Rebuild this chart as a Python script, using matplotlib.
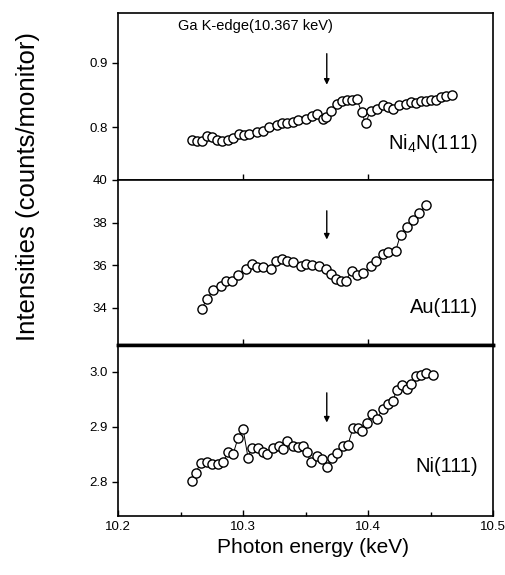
import matplotlib
matplotlib.use("Agg")
import matplotlib.pyplot as plt

plt.rcParams['font.family'] = ['Liberation Sans', 'DejaVu Sans']
plt.rcParams['mathtext.default'] = 'regular'

# Ni4N(111) reflection
ni4n_x = [10.259, 10.263, 10.267, 10.271, 10.275, 10.279, 10.283, 10.288, 10.292, 10.297,
          10.301, 10.305, 10.311, 10.316, 10.321, 10.327, 10.331, 10.335, 10.340, 10.344,
          10.350, 10.355, 10.359, 10.364, 10.366, 10.370, 10.375, 10.379, 10.383, 10.387,
          10.391, 10.395, 10.398, 10.402, 10.407, 10.412, 10.416, 10.420, 10.425, 10.430,
          10.434, 10.438, 10.442, 10.446, 10.450, 10.454, 10.458, 10.462, 10.467]
ni4n_y = [0.780, 0.779, 0.779, 0.787, 0.785, 0.780, 0.779, 0.780, 0.783, 0.790,
          0.788, 0.790, 0.793, 0.795, 0.800, 0.803, 0.806, 0.807, 0.808, 0.811,
          0.813, 0.818, 0.821, 0.813, 0.816, 0.826, 0.836, 0.841, 0.842, 0.843,
          0.844, 0.823, 0.806, 0.826, 0.829, 0.834, 0.832, 0.829, 0.834, 0.836,
          0.839, 0.837, 0.840, 0.841, 0.843, 0.843, 0.847, 0.849, 0.850]

# Au(111) reflection
au_x = [10.267, 10.271, 10.276, 10.282, 10.286, 10.291, 10.296, 10.302, 10.307, 10.311,
        10.316, 10.322, 10.326, 10.331, 10.335, 10.340, 10.346, 10.350, 10.355, 10.361,
        10.366, 10.370, 10.374, 10.378, 10.382, 10.387, 10.391, 10.396, 10.402, 10.406,
        10.412, 10.416, 10.422, 10.426, 10.431, 10.436, 10.441, 10.446]
au_y = [33.95, 34.38, 34.83, 35.02, 35.26, 35.26, 35.55, 35.81, 36.03, 35.90,
        35.90, 35.80, 36.18, 36.27, 36.18, 36.12, 35.97, 36.05, 36.02, 35.95,
        35.80, 35.57, 35.34, 35.26, 35.26, 35.72, 35.53, 35.62, 35.95, 36.20,
        36.50, 36.63, 36.65, 37.42, 37.78, 38.10, 38.46, 38.80]

# Ni(111) reflection
ni_x = [10.259, 10.262, 10.266, 10.271, 10.275, 10.280, 10.284, 10.288, 10.292, 10.296,
        10.300, 10.304, 10.307, 10.312, 10.316, 10.319, 10.324, 10.329, 10.332, 10.335,
        10.340, 10.344, 10.348, 10.351, 10.354, 10.359, 10.363, 10.367, 10.371, 10.375,
        10.380, 10.384, 10.388, 10.392, 10.395, 10.399, 10.403, 10.407, 10.412, 10.416,
        10.420, 10.423, 10.427, 10.431, 10.434, 10.438, 10.442, 10.446, 10.452]
ni_y = [2.801, 2.816, 2.834, 2.837, 2.833, 2.833, 2.836, 2.854, 2.850, 2.880,
        2.897, 2.844, 2.862, 2.862, 2.854, 2.851, 2.862, 2.865, 2.860, 2.874,
        2.866, 2.864, 2.865, 2.854, 2.837, 2.848, 2.842, 2.828, 2.844, 2.853,
        2.865, 2.868, 2.898, 2.898, 2.892, 2.907, 2.924, 2.915, 2.933, 2.942,
        2.948, 2.968, 2.977, 2.969, 2.978, 2.992, 2.995, 2.998, 2.995]

edge = 10.367

fig = plt.figure(figsize=(5.05, 5.75), dpi=100)
ax1 = fig.add_axes([0.2337, 0.687, 0.7426, 0.2904])
ax2 = fig.add_axes([0.2337, 0.400, 0.7426, 0.287])
ax3 = fig.add_axes([0.2337, 0.1026, 0.7426, 0.2974])

panels = [
    (ax1, ni4n_x, ni4n_y, (0.7185, 0.977), [0.8, 0.9], '%.1f', 'Ni$_4$N(111)', 0.775, (0.914, 0.866)),
    (ax2, au_x, au_y, (32.24, 40.0), [34, 36, 38, 40], '%d', 'Au(111)', 34.0, (38.55, 37.2)),
    (ax3, ni_x, ni_y, (2.738, 3.049), [2.8, 2.9, 3.0], '%.1f', 'Ni(111)', 2.828, (2.962, 2.908)),
]

for ax, x, y, ylim, yt, fmt, label, ly, arr in panels:
    ax.plot(x, y, '-', color='black', lw=0.7, marker='o', ms=6.6, mfc='white',
            mec='black', mew=1.0)
    ax.set_xlim(10.2, 10.5)
    ax.set_ylim(*ylim)
    ax.set_yticks(yt)
    ax.set_yticklabels([fmt % v for v in yt], fontsize=9.5)
    ax.tick_params(axis='y', direction='out', length=4, width=1)
    ax.tick_params(axis='x', direction='in', length=4, width=1, top=False)
    ax.text(10.488, ly, label, ha='right', va='center', fontsize=14.5)
    ax.annotate('', xy=(edge, arr[1]), xytext=(edge, arr[0]),
                arrowprops=dict(arrowstyle='-|>', color='black', lw=1.0,
                                mutation_scale=8, shrinkA=0, shrinkB=0))
    for s in ax.spines.values():
        s.set_linewidth(1.2)

for ax in (ax1, ax2):
    ax.set_xticks([10.3, 10.4])
    ax.set_xticklabels([])

ax3.set_xticks([10.2, 10.3, 10.4, 10.5])
ax3.set_xticks([10.25, 10.35, 10.45], minor=True)
ax3.set_xticklabels(['10.2', '10.3', '10.4', '10.5'], fontsize=9.5)
ax3.tick_params(axis='x', which='minor', direction='in', length=3, width=1)

# thicker separator between Au and Ni panels
ax2.spines['bottom'].set_linewidth(2.5)
ax3.spines['top'].set_linewidth(2.5)

ax1.text(10.310, 0.957, 'Ga K-edge(10.367 keV)', ha='center', va='center', fontsize=10.5)

fig.text(0.056, 0.675, 'Intensities (counts/monitor)', rotation=90, ha='center',
         va='center', fontsize=18.5)
fig.text(0.62, 0.047, 'Photon energy (keV)', ha='center', va='center', fontsize=15)

fig.savefig('out.png', dpi=100)
